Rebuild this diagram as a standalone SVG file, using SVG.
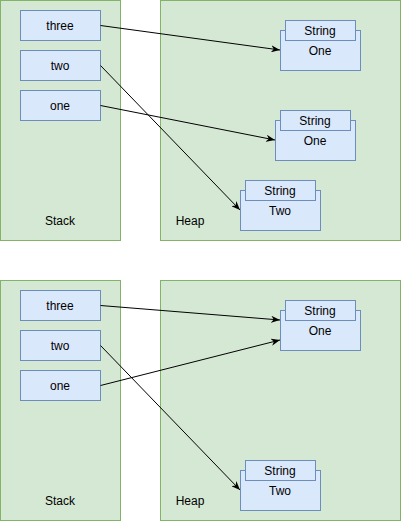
<svg xmlns="http://www.w3.org/2000/svg" width="402" height="522" viewBox="0 0 402 522">
<style>
.panel{fill:#d5e8d4;stroke:#82b366;stroke-width:1}
.box{fill:#dae8fc;stroke:#6c8ebf;stroke-width:1}
text{font-family:"Liberation Sans",Arial,sans-serif;font-size:12px;fill:#000;text-anchor:middle}
.edge{stroke:#000;stroke-width:1;fill:none;marker-end:url(#arr)}
</style>
<defs>
<marker id="arr" viewBox="0 0 10 8" refX="10" refY="4" markerWidth="9" markerHeight="7.2" markerUnits="userSpaceOnUse" orient="auto">
<path d="M0,0 L10,4 L0,8 L3,4 z" fill="#000"/>
</marker>
</defs>
<rect width="402" height="522" fill="#fff"/>
<g id="stack1"><rect class="panel" x="0.5" y="0.5" width="120" height="240"/><text x="60" y="225">Stack</text></g>
<g id="heap1"><rect class="panel" x="160.5" y="0.5" width="240" height="240"/><text x="190" y="225">Heap</text></g>
<g id="three1"><rect class="box" x="20.5" y="10.5" width="80" height="30"/><text x="60" y="30">three</text></g>
<g id="two1"><rect class="box" x="20.5" y="50.5" width="80" height="30"/><text x="60" y="70">two</text></g>
<g id="one1"><rect class="box" x="20.5" y="90.5" width="80" height="30"/><text x="60" y="110">one</text></g>
<g id="strOneA1"><rect class="box" x="280.5" y="30.5" width="80" height="40"/><rect class="box" x="285.5" y="20.5" width="70" height="20"/><text x="320" y="35">String</text><text x="320" y="55">One</text></g>
<g id="strOneB1"><rect class="box" x="275.5" y="120.5" width="80" height="40"/><rect class="box" x="280.5" y="110.5" width="70" height="20"/><text x="315" y="125">String</text><text x="315" y="145">One</text></g>
<g id="strTwo1"><rect class="box" x="240.5" y="190.5" width="80" height="40"/><rect class="box" x="245.5" y="180.5" width="70" height="20"/><text x="280" y="195">String</text><text x="280" y="215">Two</text></g>

<g id="stack2"><rect class="panel" x="0.5" y="280.5" width="120" height="240"/><text x="60" y="505">Stack</text></g>
<g id="heap2"><rect class="panel" x="160.5" y="280.5" width="240" height="240"/><text x="190" y="505">Heap</text></g>
<g id="three2"><rect class="box" x="20.5" y="290.5" width="80" height="30"/><text x="60" y="310">three</text></g>
<g id="two2"><rect class="box" x="20.5" y="330.5" width="80" height="30"/><text x="60" y="350">two</text></g>
<g id="one2"><rect class="box" x="20.5" y="370.5" width="80" height="30"/><text x="60" y="390">one</text></g>
<g id="strOne2"><rect class="box" x="280.5" y="310.5" width="80" height="40"/><rect class="box" x="285.5" y="300.5" width="70" height="20"/><text x="320" y="315">String</text><text x="320" y="335">One</text></g>
<g id="strTwo2"><rect class="box" x="240.5" y="470.5" width="80" height="40"/><rect class="box" x="245.5" y="460.5" width="70" height="20"/><text x="280" y="475">String</text><text x="280" y="495">Two</text></g>

<g id="connectors">
<path class="edge" d="M100.5,25.5 L280,50"/>
<path class="edge" d="M100.5,65.5 L240,210"/>
<path class="edge" d="M100.5,105.5 L275,140"/>
<path class="edge" d="M100.5,305.5 L280,320"/>
<path class="edge" d="M100.5,345.5 L240,490"/>
<path class="edge" d="M100.5,385.5 L280,340"/>
</g>
</svg>
